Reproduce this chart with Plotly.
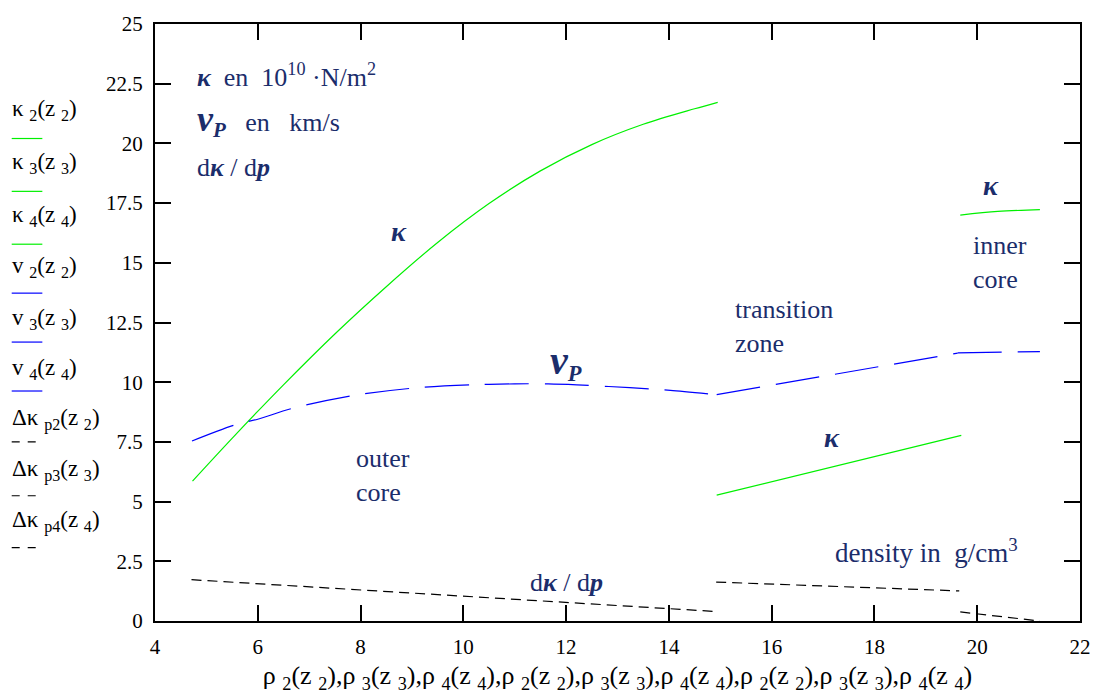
import plotly.graph_objects as go

# ---- data ----
# outer core
x_outer = [4.73, 5.5, 6.5, 7.5, 8.5, 9.5, 10.5, 11.5, 12.5, 13.5, 14.5, 14.95]
k_outer = [5.86, 7.65, 9.89, 12.02, 14.0, 15.85, 17.48, 18.85, 19.95, 20.8, 21.45, 21.72]
xv_outer = [4.72, 5.55, 6.0, 6.68, 7.85, 9.01, 10.18, 11.0, 11.65, 12.21, 12.83, 13.71, 14.03, 14.93]
v_outer = [7.54, 8.21, 8.45, 8.91, 9.44, 9.75, 9.89, 9.93, 9.93, 9.89, 9.82, 9.71, 9.66, 9.48]
xd_outer = [4.71, 9.93, 14.9]
d_outer = [1.73, 1.05, 0.40]
# transition zone
x_trans = [14.93, 19.69]
k_trans = [5.27, 7.77]
xv_trans = [14.93, 17.27, 19.62]
v_trans = [9.48, 10.36, 11.22]
xd_trans = [14.92, 19.65]
d_trans = [1.63, 1.26]
# inner core
x_inner = [19.67, 20.4, 21.22]
k_inner = [17.0, 17.15, 17.23]
xv_inner = [19.62, 20.4, 21.22]
v_inner = [11.23, 11.26, 11.28]
xd_inner = [19.67, 21.22]
d_inner = [0.38, 0.0]

y_ticks = [0, 2.5, 5, 7.5, 10, 12.5, 15, 17.5, 20, 22.5, 25]
y_ticklabels = ["0", "2.5", "5", "7.5", "10", "12.5", "15", "17.5", "20", "22.5", "25"]
x_ticks = [4, 6, 8, 10, 12, 14, 16, 18, 20, 22]

legend_labels = ["κ <sub>2</sub>(z <sub>2</sub>)", "κ <sub>3</sub>(z <sub>3</sub>)", "κ <sub>4</sub>(z <sub>4</sub>)",
                 "v <sub>2</sub>(z <sub>2</sub>)", "v <sub>3</sub>(z <sub>3</sub>)", "v <sub>4</sub>(z <sub>4</sub>)",
                 "Δκ <sub>p2</sub>(z <sub>2</sub>)", "Δκ <sub>p3</sub>(z <sub>3</sub>)", "Δκ <sub>p4</sub>(z <sub>4</sub>)"]

GREEN = "#00f000"
BLUE = "#0000ff"
BLACK = "#000000"
NAVY = "#1b2d6b"
FONT = "Liberation Serif, DejaVu Serif, serif"
SP = "&nbsp;&nbsp;"

fig = go.Figure()

def add(x, y, color, dash, shape="linear"):
    fig.add_trace(go.Scatter(x=x, y=y, mode="lines",
                             line=dict(color=color, width=1.2, dash=dash, shape=shape, smoothing=0.9),
                             showlegend=False, hoverinfo="skip"))

add(x_outer, k_outer, GREEN, "solid", "spline")
add(x_trans, k_trans, GREEN, "solid")
add(x_inner, k_inner, GREEN, "solid", "spline")
add(xv_outer, v_outer, BLUE, "44px,16px", "spline")
add(xv_trans, v_trans, BLUE, "44px,16px")
add(xv_inner, v_inner, BLUE, "44px,16px")
add(xd_outer, d_outer, BLACK, "10px,6px")
add(xd_trans, d_trans, BLACK, "10px,6px")
add(xd_inner, d_inner, BLACK, "10px,6px")

ann = []
def txt(x, y, t, size=26, xanchor="left", color=NAVY):
    ann.append(dict(x=x, y=y, xref="x", yref="y", text=t, showarrow=False,
                    xanchor=xanchor, yanchor="middle", align="left",
                    font=dict(family=FONT, size=size, color=color)))

VP_SMALL = ("<b><i><span style='font-size:36px'>v</span><sub>P</sub></i></b>"
            "<span style='font-size:26px'>" + SP + " en" + SP + " km/s</span>")
VP_BIG = "<b><i><span style='font-size:40px'>v</span><sub>P</sub></i></b>"

txt(4.78, 22.85, "<b><i>κ</i></b>" + SP + "en" + SP + "10<sup>10</sup> ·N/m<sup>2</sup>")
txt(4.78, 20.95, VP_SMALL, size=30)
txt(4.78, 19.0, "d<b><i>κ</i></b> / d<b><i>p</i></b>")
txt(8.75, 16.3, "<b><i>κ</i></b>", size=28, xanchor="center")
txt(12.0, 10.85, VP_BIG, size=32, xanchor="center")
txt(7.88, 6.1, "outer<br>core")
txt(15.25, 12.35, "transition<br>zone")
txt(17.17, 7.7, "<b><i>κ</i></b>", size=28, xanchor="center")
txt(20.27, 18.25, "<b><i>κ</i></b>", size=28, xanchor="center")
txt(19.88, 15.0, "inner<br>core")
txt(17.2, 2.95, "density in&nbsp; g/cm<sup>3</sup>", size=27)
txt(11.25, 1.6, "d<b><i>κ</i></b> / d<b><i>p</i></b>")

# left-side trace labels (Mathcad style)
W, H, L, B = 936.0, 610.0, 155.0, 623.0
label_y = [101, 155, 209, 261, 314, 366, 417, 469, 521]
sample_y = [130, 184, 238, 288, 338, 388, 440, 495, 548]
colors = [GREEN] * 3 + [BLUE] * 3 + [BLACK] * 3
shapes = []
for lab, ly, sy, c in zip(legend_labels, label_y, sample_y, colors):
    ann.append(dict(x=(8 - L) / W, y=(B - ly) / H, xref="paper", yref="paper", text=lab,
                    showarrow=False, xanchor="left", yanchor="middle",
                    font=dict(family=FONT, size=23, color=BLACK)))
    shapes.append(dict(type="line", xref="paper", yref="paper",
                       x0=(10 - L) / W, x1=(41 - L) / W, y0=(B - sy) / H, y1=(B - sy) / H,
                       line=dict(color=c, width=1.2, dash="8px,8px" if c == BLACK else "solid")))

xtitle = ",".join(["ρ <sub>%s</sub>(z <sub>%s</sub>)" % (i, i) for i in ["2", "3", "4"] * 3])

fig.update_layout(
    width=1103, height=697,
    margin=dict(l=155, r=12, t=13, b=74),
    paper_bgcolor="white", plot_bgcolor="white",
    annotations=ann, shapes=shapes,
    font=dict(family=FONT, size=21, color=BLACK),
    xaxis=dict(range=[4, 22], tickvals=x_ticks, ticks="inside", ticklen=16, tickwidth=2,
               tickcolor=BLACK, showline=True, linecolor=BLACK, linewidth=2, mirror="ticks",
               showgrid=False, zeroline=False, ticklabelstandoff=6,
               tickfont=dict(family=FONT, size=21, color=BLACK),
               title=dict(text=xtitle, font=dict(family=FONT, size=26, color=BLACK), standoff=8)),
    yaxis=dict(range=[0, 25], tickvals=y_ticks, ticktext=y_ticklabels, ticks="inside", ticklen=16,
               tickwidth=2, tickcolor=BLACK, showline=True, linecolor=BLACK, linewidth=2,
               mirror="ticks", showgrid=False, zeroline=False, ticklabelstandoff=6,
               tickfont=dict(family=FONT, size=21, color=BLACK)),
)

fig.write_html("out.html")
